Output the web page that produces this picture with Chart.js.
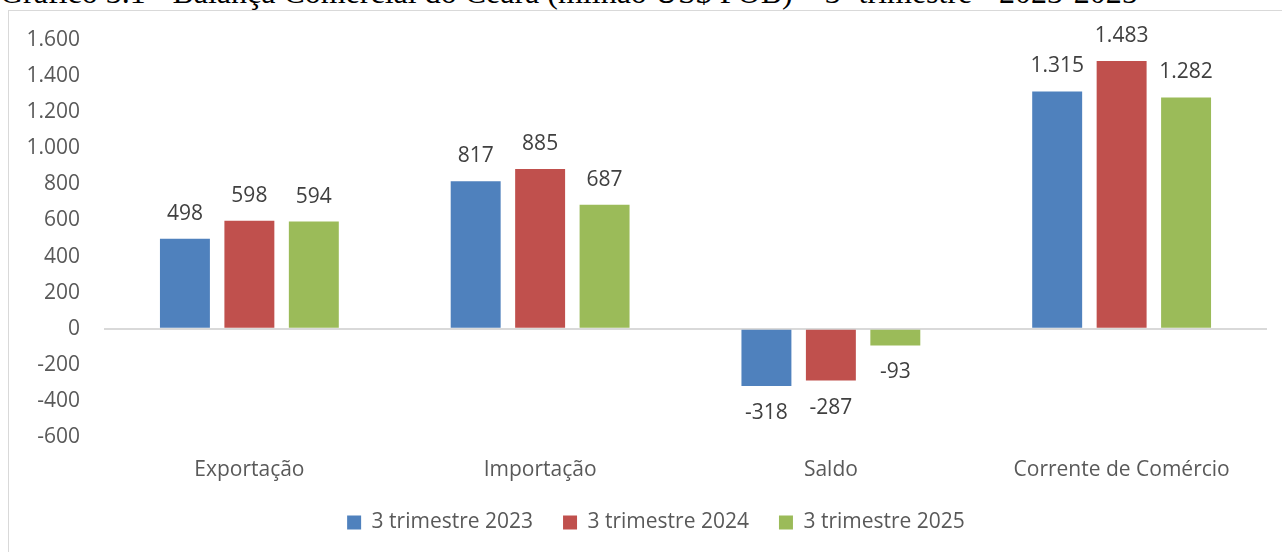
<!DOCTYPE html>
<html>
<head>
<meta charset="utf-8">
<script src="https://cdn.jsdelivr.net/npm/chart.js@4"></script>
<style>
  html, body { margin: 0; padding: 0; background: #fff; overflow: hidden; }
  body { width: 1282px; height: 552px; position: relative; }
  #titulo {
    position: absolute; left: 0; top: -24px;
    font-family: "Liberation Serif", "Times New Roman", serif;
    font-size: 32px; line-height: 32px; white-space: nowrap; color: #000;
  }
  #quadro {
    position: absolute; left: 8px; top: 10px; width: 1300px; height: 560px;
    border: 1px solid #d9d9d9; background: #fff;
  }
  #caixa { position: absolute; left: 0; top: 0; width: 1294px; height: 541px; }
</style>
</head>
<body>
<div id="titulo">Gráfico 3.1 - Balança Comercial do Ceará (milhão US$ FOB) – 3º trimestre - 2023-2025</div>
<div id="quadro">
  <div id="caixa"><canvas id="graficoBalanca"></canvas></div>
</div>
<script>
const categorias = ["Exportação", "Importação", "Saldo", "Corrente de Comércio"];
const rotulosSeries = ["3 trimestre 2023", "3 trimestre 2024", "3 trimestre 2025"];
const valores2023 = [498, 817, -318, 1315];
const valores2024 = [598, 885, -287, 1483];
const valores2025 = [594, 687, -93, 1282];
const ticksY = [-600, -400, -200, 0, 200, 400, 600, 800, 1000, 1200, 1400, 1600];

const cores = ["#4f81bd", "#c0504d", "#9bbb59"];
const fonte = '"Open Sans", "Noto Sans", sans-serif';

function formatarNumero(v) {
  const s = Math.abs(v).toString().replace(/\B(?=(\d{3})+(?!\d))/g, ".");
  return (v < 0 ? "-" : "") + s;
}

// rótulos de dados por cima/baixo das barras
const rotulosDados = {
  id: "rotulosDados",
  afterDatasetsDraw(chart) {
    const ctx = chart.ctx;
    ctx.save();
    ctx.font = "21px " + fonte;
    ctx.fillStyle = "#404040";
    ctx.textAlign = "center";
    ctx.textBaseline = "middle";
    chart.data.datasets.forEach((ds, i) => {
      const meta = chart.getDatasetMeta(i);
      meta.data.forEach((barra, j) => {
        const v = ds.data[j];
        const y = v >= 0 ? barra.y - 25 : barra.y + 27;
        ctx.fillText(formatarNumero(v), barra.x, y);
      });
    });
    ctx.restore();
  },
};

new Chart(document.getElementById("graficoBalanca"), {
  type: "bar",
  data: {
    labels: categorias,
    datasets: [
      { label: rotulosSeries[0], data: valores2023, backgroundColor: cores[0] },
      { label: rotulosSeries[1], data: valores2024, backgroundColor: cores[1] },
      { label: rotulosSeries[2], data: valores2025, backgroundColor: cores[2] },
    ],
  },
  options: {
    responsive: true,
    maintainAspectRatio: false,
    animation: false,
    categoryPercentage: 0.665,
    barPercentage: 0.775,
    layout: { padding: { top: 29, right: 0, left: 0, bottom: 9 } },
    plugins: {
      tooltip: { enabled: false },
      legend: {
        position: "bottom",
        labels: {
          boxWidth: 14,
          boxHeight: 14,
          padding: 30,
          color: "#595959",
          font: { family: fonte, size: 21 },
        },
      },
    },
    scales: {
      x: {
        grid: { display: false },
        border: { display: false },
        ticks: { color: "#595959", padding: 12, font: { family: fonte, size: 21 } },
        afterFit(scale) { scale.height = 45; },
      },
      y: {
        min: -600,
        max: 1600,
        afterBuildTicks(scale) { scale.ticks = ticksY.map((v) => ({ value: v })); },
        grid: {
          drawTicks: false,
          color: (c) => (c.tick && c.tick.value === 0 ? "#d9d9d9" : "transparent"),
          lineWidth: 2,
        },
        border: { display: false },
        ticks: {
          color: "#595959",
          padding: 24,
          font: { family: fonte, size: 21 },
          callback: (v) => formatarNumero(v),
        },
        afterFit(scale) {
          scale.width = 95;
          scale.paddingTop = 0;
          scale.paddingBottom = 0;
        },
      },
      // eixo vazio à direita, só para reservar a margem
      margemDireita: {
        type: "linear",
        axis: "y",
        position: "right",
        grid: { display: false },
        border: { display: false },
        ticks: { display: false },
        afterFit(scale) {
          scale.width = 36;
          scale.paddingTop = 0;
          scale.paddingBottom = 0;
        },
      },
    },
  },
  plugins: [rotulosDados],
});
</script>
</body>
</html>
